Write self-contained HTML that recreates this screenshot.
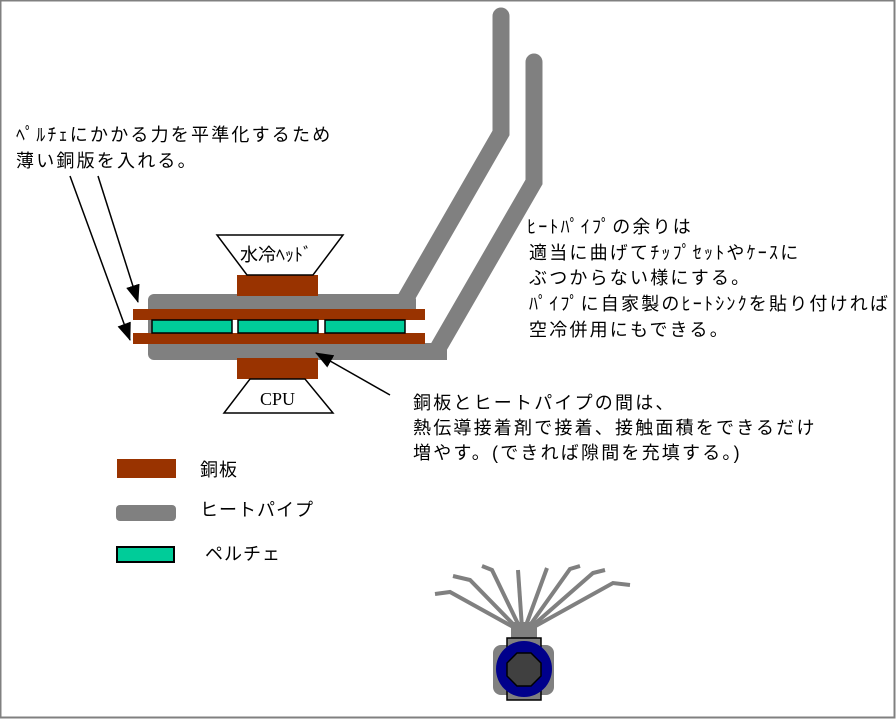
<!DOCTYPE html>
<html><head><meta charset="utf-8"><style>
body{margin:0;background:#fff;}
svg{display:block;}
text{font-family:"Liberation Sans","Noto Sans CJK JP",sans-serif;font-size:18px;fill:#000;}
.t{letter-spacing:2.2px;}
.l{letter-spacing:1px;}
</style></head><body>
<svg width="896" height="719" viewBox="0 0 896 719" xmlns="http://www.w3.org/2000/svg">
<defs><marker id="ah2" markerWidth="18" markerHeight="14" refX="17" refY="7" orient="auto" markerUnits="userSpaceOnUse"><path d="M0,0 L18,7 L0,14 Z" fill="#000"/></marker></defs>
<rect x="0.5" y="0.5" width="894" height="717" fill="none" stroke="#808080" stroke-width="2"/>
<polyline points="501,16 501,133 406,298" fill="none" stroke="#808080" stroke-width="17" stroke-linecap="round"/>
<polyline points="534,62 534,182 437,350" fill="none" stroke="#808080" stroke-width="17" stroke-linecap="round"/>
<rect x="148" y="294" width="268" height="66" rx="6" fill="#808080"/>
<rect x="300" y="343" width="147" height="17" fill="#808080"/>
<rect x="152" y="319" width="268" height="15" fill="#fff"/>
<rect x="133" y="309" width="292" height="11" fill="#993300"/>
<rect x="133" y="333" width="292" height="11" fill="#993300"/>
<rect x="152" y="320" width="80" height="13" fill="#00cc99" stroke="#000" stroke-width="1.5"/>
<rect x="238" y="320" width="80" height="13" fill="#00cc99" stroke="#000" stroke-width="1.5"/>
<rect x="325" y="320" width="80" height="13" fill="#00cc99" stroke="#000" stroke-width="1.5"/>
<rect x="237" y="275" width="81" height="21" fill="#993300"/>
<rect x="237" y="358" width="81" height="21" fill="#993300"/>
<polygon points="217,235 343,235 313,275 247,275" fill="#fff" stroke="#000" stroke-width="1.5"/>
<text x="240" y="261">水冷ﾍｯﾄﾞ</text>
<polygon points="250,379 305,379 333,413 224,413" fill="#fff" stroke="#000" stroke-width="1.5"/>
<text x="260" y="405" style="font-family:'Liberation Serif',serif;font-size:18px">CPU</text>
<line x1="70" y1="176" x2="130" y2="340" stroke="#000" stroke-width="1.5" marker-end="url(#ah2)"/>
<line x1="98" y1="176" x2="138" y2="302" stroke="#000" stroke-width="1.5" marker-end="url(#ah2)"/>
<line x1="390" y1="395" x2="316" y2="353" stroke="#000" stroke-width="1.5" marker-end="url(#ah2)"/>
<text class="t" x="16" y="141">ﾍﾟﾙﾁｪにかかる力を平準化するため</text>
<text class="t" x="16" y="167">薄い銅版を入れる。</text>
<text class="t" x="527" y="233">ﾋｰﾄﾊﾟｲﾌﾟの余りは</text>
<text class="t" x="529" y="259">適当に曲げてﾁｯﾌﾟｾｯﾄやｹｰｽに</text>
<text class="t" x="529" y="284">ぶつからない様にする。</text>
<text class="t" x="529" y="310">ﾊﾟｲﾌﾟに自家製のﾋｰﾄｼﾝｸを貼り付ければ</text>
<text class="t" x="529" y="336">空冷併用にもできる。</text>
<text class="t" x="413" y="409">銅板とヒートパイプの間は、</text>
<text class="t" x="413" y="434">熱伝導接着剤で接着、接触面積をできるだけ</text>
<text class="t" x="413" y="459">増やす。(できれば隙間を充填する。)</text>
<rect x="117" y="459" width="59" height="19" fill="#993300"/>
<text class="l" x="200" y="476">銅板</text>
<rect x="116" y="505" width="60" height="16" rx="4" fill="#808080"/>
<text class="l" x="200" y="516">ヒートパイプ</text>
<rect x="117" y="547" width="57" height="15" fill="#00cc99" stroke="#000" stroke-width="2"/>
<text class="l" x="205" y="560">ペルチェ</text>
<g fill="none" stroke="#808080" stroke-width="4">
<polyline points="515,628 450,592 435,594"/>
<polyline points="517,628 470,580 453,576"/>
<polyline points="520,628 492,570 482,566"/>
<polyline points="522,628 518,570"/>
<polyline points="525,628 547,568"/>
<polyline points="528,628 570,569 580,566"/>
<polyline points="530,628 593,573 605,570"/>
<polyline points="532,628 613,583 630,585"/>
</g>
<rect x="511" y="622" width="26" height="18" fill="#808080"/>
<rect x="493" y="645" width="61" height="50" rx="8" fill="#808080"/>
<rect x="507" y="638" width="34" height="62" fill="#808080" stroke="#000" stroke-width="1.5"/>
<circle cx="524" cy="669" r="28" fill="#00008b"/>
<polygon points="517,653 531,653 541,663 541,676 531,686 517,686 507,676 507,663" fill="#404040" stroke="#000" stroke-width="1.5"/>
</svg>
</body></html>
